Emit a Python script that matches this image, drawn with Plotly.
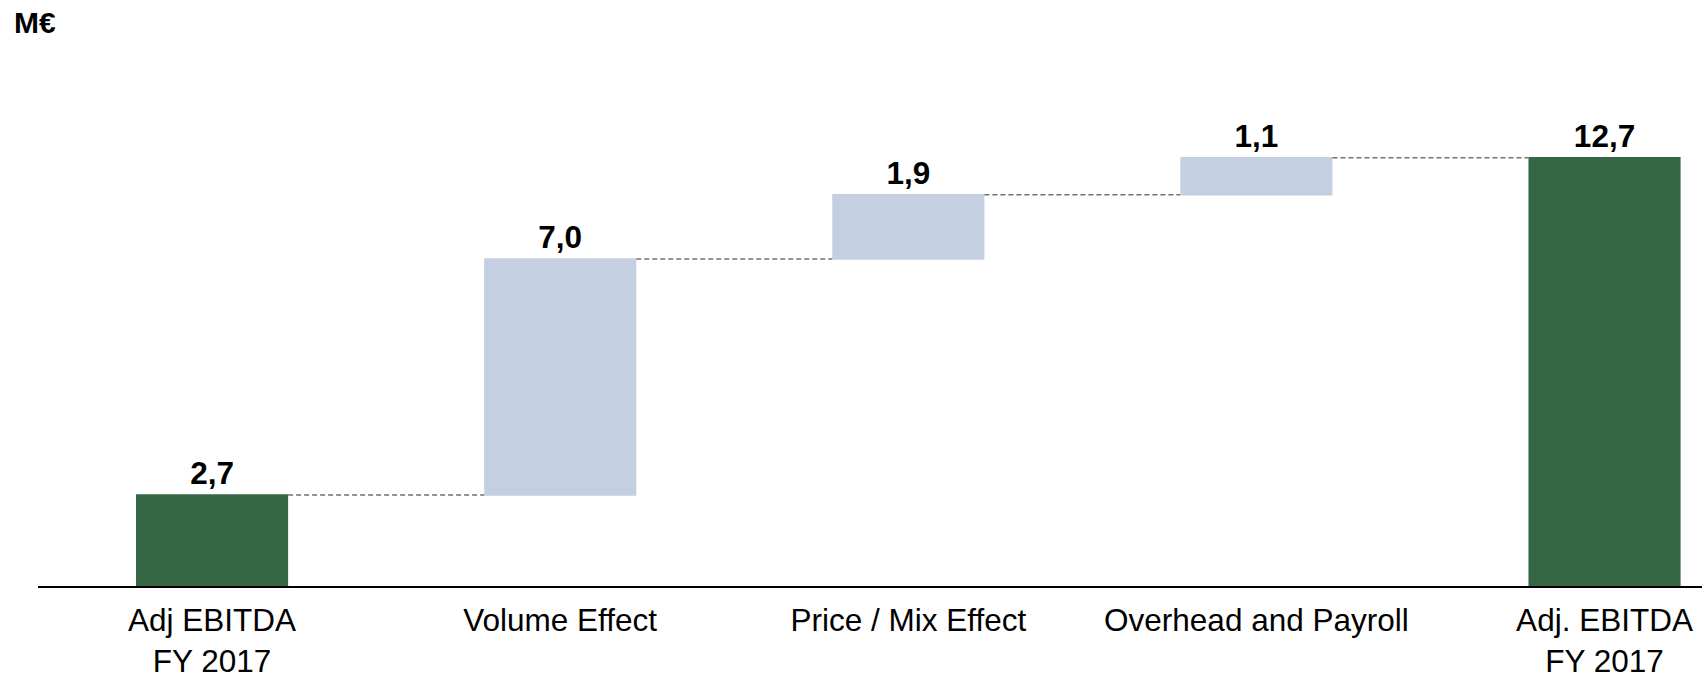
import plotly.graph_objects as go

# Bridge from opening to closing Adj. EBITDA (M€)
categories = [
    "Adj EBITDA<br>FY 2017",
    "Volume Effect",
    "Price / Mix Effect",
    "Overhead and Payroll",
    "Adj. EBITDA<br>FY 2017",
]
measures = ["absolute", "relative", "relative", "relative", "total"]
steps = [2.7, 7.0, 1.9, 1.1]
closing = 12.7


def fmt(v):
    return f"{v:.1f}".replace(".", ",")


values = steps + [closing]
labels = [fmt(v) for v in values]

GREEN = "#366744"
LIGHT_BLUE = "#C4CFE1"
FONT = "Arial, Liberation Sans, sans-serif"

fig = go.Figure(
    go.Waterfall(
        x=categories,
        y=values,
        measure=measures,
        text=labels,
        textposition="outside",
        textfont=dict(family=FONT, size=31.5, color="black", weight="bold"),
        constraintext="none",
        cliponaxis=False,
        increasing=dict(marker=dict(color=LIGHT_BLUE)),
        decreasing=dict(marker=dict(color=LIGHT_BLUE)),
        totals=dict(marker=dict(color=GREEN)),
        connector=dict(mode="between", line=dict(color="#707070", width=1.5, dash="5px,3px")),
        hoverinfo="skip",
    )
)

fig.add_annotation(
    text="<b>M€</b>",
    xref="paper", yref="paper",
    x=-0.0155, y=1.107,
    xanchor="left", yanchor="top",
    showarrow=False,
    font=dict(family=FONT, size=30, color="black"),
)

fig.update_layout(
    width=1702,
    height=675,
    margin=dict(l=38, r=0, t=60, b=89, autoexpand=False),
    paper_bgcolor="white",
    plot_bgcolor="white",
    showlegend=False,
    separators=",.",
    waterfallgap=0.563,
    font=dict(family=FONT, color="black"),
    xaxis=dict(
        range=[-0.5, 4.28],
        showgrid=False,
        zeroline=False,
        showline=True,
        linecolor="black",
        linewidth=1.5,
        ticks="",
        ticklabelstandoff=5,
        tickfont=dict(family=FONT, size=31.5, color="black"),
        automargin=False,
    ),
    yaxis=dict(
        range=[0, 15.6],
        visible=False,
        showgrid=False,
        zeroline=False,
    ),
)

fig.write_html("out.html")
